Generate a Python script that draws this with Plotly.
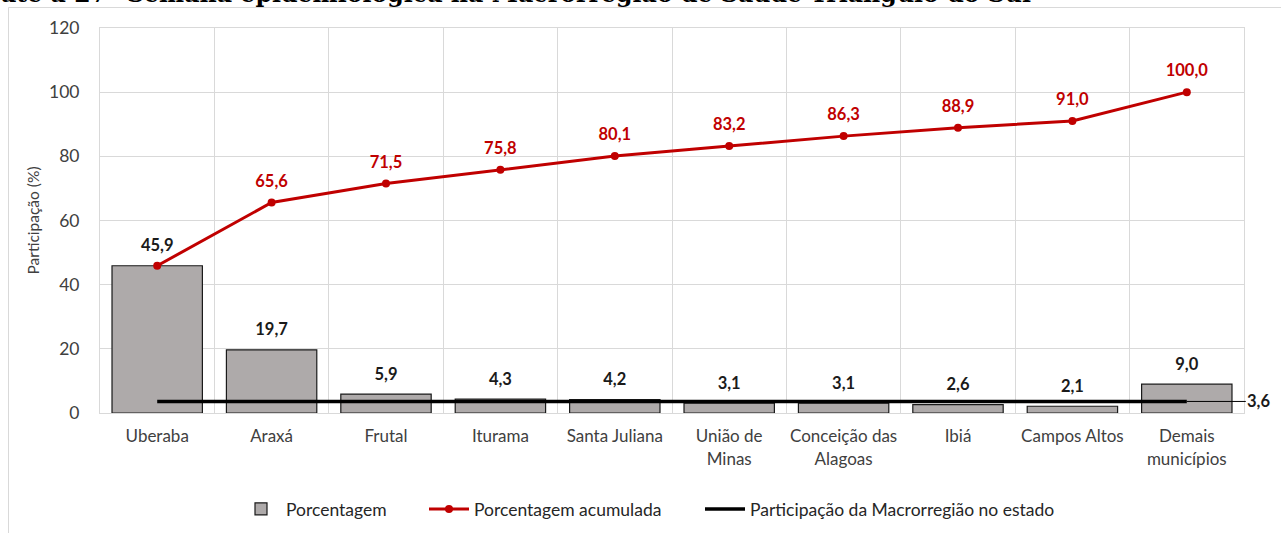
import plotly.graph_objects as go

categorias = ["Uberaba", "Araxá", "Frutal", "Iturama", "Santa Juliana",
              "União de<br>Minas", "Conceição das<br>Alagoas", "Ibiá",
              "Campos Altos", "Demais<br>municípios"]
porcentagem = [45.9, 19.7, 5.9, 4.3, 4.2, 3.1, 3.1, 2.6, 2.1, 9.0]
acumulada = [45.9, 65.6, 71.5, 75.8, 80.1, 83.2, 86.3, 88.9, 91.0, 100.0]
participacao_estado = [3.6] * 10
titulo = "até a 27ª Semana epidemiológica na Macrorregião de Saúde Triângulo do Sul"

def br(v):
    return f"{v:.1f}".replace(".", ",")

FONT = "Lato"
W, H = 1281, 533
L, R, T, B = 100, 37, 28, 120
pw, ph = W - L - R, H - T - B
def px_x(p):
    return (p - L) / pw
def px_y(p):
    return (H - B - p) / ph

fig = go.Figure()

fig.add_trace(go.Bar(
    x=categorias, y=porcentagem, name="Porcentagem",
    marker=dict(color="#AEAAAA", line=dict(color="#1a1a1a", width=1.2)),
    legend="legend", hoverinfo="x+y",
))

fig.add_trace(go.Scatter(
    x=categorias, y=participacao_estado, name="Participação da Macrorregião no estado",
    mode="lines", line=dict(color="#000000", width=3.5), legend="legend3",
))

fig.add_trace(go.Scatter(
    x=categorias, y=acumulada, name="Porcentagem acumulada",
    mode="lines+markers",
    line=dict(color="#C00000", width=3),
    marker=dict(color="#C00000", size=8),
    legend="legend2",
))

# data labels (invisible markers set the gap above each point)
fig.add_trace(go.Scatter(
    x=categorias[1:], y=acumulada[1:], mode="markers+text",
    marker=dict(size=17, opacity=0),
    text=[br(v) for v in acumulada[1:]], textposition="top center",
    textfont=dict(family=FONT, size=16.5, color="#C00000", weight="bold"),
    cliponaxis=False, showlegend=False, hoverinfo="skip",
))
fig.add_trace(go.Scatter(
    x=categorias, y=porcentagem, mode="markers+text",
    marker=dict(size=15, opacity=0),
    text=[br(v) for v in porcentagem], textposition="top center",
    textfont=dict(family=FONT, size=16.5, color="#1a1a1a", weight="bold"),
    cliponaxis=False, showlegend=False, hoverinfo="skip",
))

fig.add_annotation(
    x=categorias[-1], y=participacao_estado[-1], xref="x", yref="y",
    text="<b>" + br(participacao_estado[-1]) + "</b>",
    showarrow=True, arrowhead=0, arrowwidth=1, arrowcolor="#000000",
    ax=72, ay=0, font=dict(family=FONT, size=16.5, color="#1a1a1a"),
)

# title, cut off at the top edge as in the reference
fig.add_annotation(
    x=px_x(-1), y=px_y(10), xref="paper", yref="paper",
    xanchor="left", yanchor="bottom",
    text=f"<b>{titulo}</b>", showarrow=False,
    font=dict(family="DejaVu Serif", size=23.7, color="#000000"),
)

# outer chart frame
fig.add_shape(type="rect", xref="paper", yref="paper",
              x0=px_x(8.5), x1=px_x(1290), y0=px_y(540), y1=px_y(7.5),
              line=dict(color="#d9d9d9", width=1), fillcolor="rgba(0,0,0,0)", layer="below")

leg_common = dict(orientation="h", yanchor="middle", xanchor="left",
                  font=dict(family=FONT, size=17.5, color="#262626"),
                  bgcolor="rgba(0,0,0,0)", itemwidth=40)

fig.update_layout(
    width=W, height=H,
    margin=dict(l=L, r=R, t=T, b=B, autoexpand=False),
    paper_bgcolor="white", plot_bgcolor="white",
    bargap=0.21,
    font=dict(family=FONT, size=15, color="#404040"),
    showlegend=True,
    legend=dict(x=px_x(236), y=px_y(509), **leg_common),
    legend2=dict(x=px_x(424), y=px_y(509), **leg_common),
    legend3=dict(x=px_x(700), y=px_y(509), **leg_common),
    xaxis=dict(range=[-0.5, 9.5], tickson="boundaries", showgrid=True, gridcolor="#d9d9d9", gridwidth=1,
               showline=True, linecolor="#d9d9d9", mirror=True, ticks="", tickangle=0,
               ticklabelstandoff=8,
               tickfont=dict(family=FONT, size=17, color="#404040")),
    yaxis=dict(range=[0, 120], dtick=20, showgrid=True, gridcolor="#d9d9d9", gridwidth=1,
               showline=True, linecolor="#d9d9d9", mirror=True, zeroline=False,
               title=dict(text="Participação (%)", font=dict(family=FONT, size=15.5, color="#404040"), standoff=5),
               tickfont=dict(family=FONT, size=17.5, color="#404040"), ticklabelstandoff=16),
)

fig.write_html("out.html", post_script="document.body.style.margin='0';",
               config={"displayModeBar": False})
